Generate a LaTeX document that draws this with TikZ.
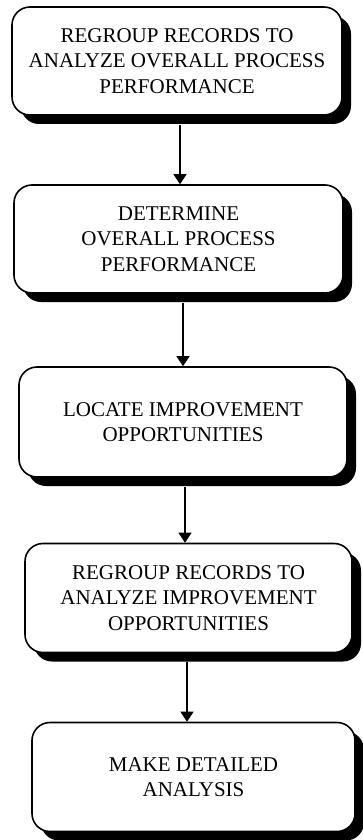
\documentclass[tikz,border=0pt]{standalone}
\usepackage{fontspec}
\setmainfont{Liberation Serif}
\usetikzlibrary{arrows.meta,shadows}
\begin{document}
\begin{tikzpicture}[x=1pt,y=1pt,
  stepbox/.style={draw=black, line width=1.6pt, fill=white, rounded corners=18pt,
    align=center, inner sep=0pt,
    font=\fontsize{21}{25.5}\selectfont,
    drop shadow={shadow xshift=9pt, shadow yshift=-9pt, fill=black, opacity=1}},
  flow/.style={line width=1.1pt, -{Triangle[width=13pt,length=10pt]}}]
\useasboundingbox (0,0) rectangle (363,-840);

\node[stepbox, minimum width=330pt, minimum height=108pt] (b1) at (177,-61)
  {REGROUP RECORDS TO\\ANALYZE OVERALL PROCESS\\PERFORMANCE};
\node[stepbox, minimum width=329pt, minimum height=108pt] (b2) at (178.5,-239)
  {DETERMINE\\OVERALL PROCESS\\PERFORMANCE};
\node[stepbox, minimum width=328pt, minimum height=110pt] (b3) at (183,-422)
  {LOCATE IMPROVEMENT\\OPPORTUNITIES};
\node[stepbox, minimum width=327pt, minimum height=109pt] (b4) at (188.5,-598)
  {REGROUP RECORDS TO\\ANALYZE IMPROVEMENT\\OPPORTUNITIES};
\node[stepbox, minimum width=323pt, minimum height=109pt] (b5) at (193.5,-777)
  {MAKE DETAILED\\ANALYSIS};

\draw[flow] ([yshift=-9pt]b1.south -| 180,0) -- (b2.north -| 180,0);
\draw[flow] ([yshift=-9pt]b2.south -| 183,0) -- (b3.north -| 183,0);
\draw[flow] ([yshift=-9pt]b3.south -| 185,0) -- (b4.north -| 185,0);
\draw[flow] ([yshift=-9pt]b4.south -| 187,0) -- (b5.north -| 187,0);
\end{tikzpicture}
\end{document}
